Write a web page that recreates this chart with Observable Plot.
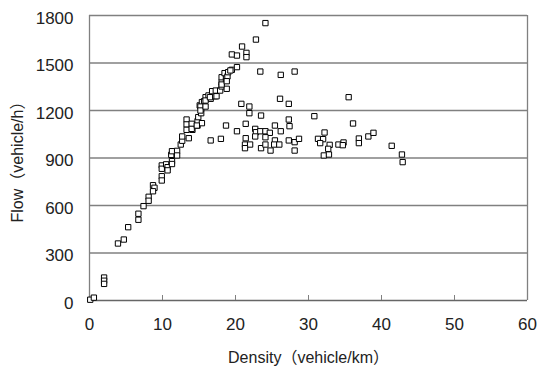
<!DOCTYPE html>
<html><head><meta charset="utf-8">
<script src="https://cdn.jsdelivr.net/npm/d3@7"></script>
<script src="https://cdn.jsdelivr.net/npm/@observablehq/plot@0.6"></script>
<style>body{margin:0;background:#fff} svg{display:block}</style>
</head><body><div id="chart"></div>
<script>
const density = [
  0.1, 0.6, 2.0, 2.0, 2.0, 3.9, 4.7, 5.3, 6.7, 6.7, 7.4, 8.1, 8.1, 8.7, 8.9, 8.7,
  9.9, 9.9, 9.9, 9.9, 10.5, 10.7, 10.7, 11.3, 11.3, 11.2, 11.3, 12.0, 12.0,
  12.5, 12.7, 12.7, 13.6, 13.3, 13.3, 13.3, 14.1, 14.1, 14.8, 14.8, 15.4, 14.9,
  14.0, 14.0, 14.7,
  15.3, 15.3, 15.1, 15.4, 15.7, 15.9, 16.3, 16.6, 17.2, 16.8, 17.3, 17.9, 18.1,
  18.1, 18.1, 18.7, 18.7, 18.5, 18.9, 19.0, 19.5, 20.2, 19.5, 20.2,
  15.2, 15.2, 15.9, 15.9, 18.8, 18.1, 18.8, 19.3, 17.4, 16.5,
  24.1, 22.8, 20.9, 21.5, 21.5, 23.4, 26.2, 28.1,
  26.1, 27.3, 20.8, 21.9, 21.9, 23.5, 27.3, 27.4, 18.7, 21.4, 25.4, 20.2, 22.7,
  22.8, 23.4, 24.1, 24.7, 26.2, 24.1, 22.7, 21.4, 16.6, 18.0, 25.4, 27.3, 28.1,
  28.7, 21.3, 22.0, 21.3, 23.5, 24.1, 24.8, 25.3, 26.0, 28.1,
  35.5, 30.8, 36.1, 32.2, 31.3, 32.0, 31.6, 32.9, 32.7, 32.1, 32.8, 34.1, 34.8,
  34.7, 36.9, 36.9, 38.2, 38.9, 41.4, 42.8, 42.9
];
const flow = [
  5, 18, 145, 125, 105, 360, 385, 463, 548, 510, 596, 655, 630, 728, 712, 690,
  853, 832, 785, 758, 860, 842, 822, 880, 862, 920, 943, 945, 916,
  985, 1009, 1036, 1025, 1143, 1112, 1078, 1105, 1078, 1105, 1132, 1120, 1158,
  1116, 1084, 1105,
  1183, 1211, 1232, 1253, 1259, 1284, 1295, 1274, 1290, 1322, 1326, 1326, 1352,
  1379, 1410, 1389, 1415, 1436, 1415, 1442, 1457, 1474, 1554, 1547,
  1225, 1200, 1225, 1263, 1337, 1364, 1385, 1453, 1290, 1284,
  1752, 1648, 1604, 1564, 1537, 1446, 1425, 1446,
  1274, 1242, 1242, 1225, 1183, 1168, 1143, 1101, 1105, 1116, 1105, 1069, 1084,
  1063, 1069, 1069, 1059, 1069, 1031, 1036, 1025, 1011, 1021, 1011, 1011, 1000,
  1021, 985, 985, 962, 962, 985, 947, 985, 985, 947,
  1284, 1164, 1118, 1061, 1021, 1019, 994, 983, 958, 916, 922, 985, 998,
  981, 1023, 994, 1036, 1059, 977, 922, 874
];
const xTicks = [0, 10, 20, 30, 40, 50, 60];
const yTicks = [0, 300, 600, 900, 1200, 1500, 1800];
const xTitle = "Density（vehicle/km）";
const yTitle = "Flow（vehicle/h）";

const points = density.map((d, i) => ({density: d, flow: flow[i]}));
const grey = "#808080";
const plain = d => String(d);

const chart = Plot.plot({
  width: 546, height: 367,
  marginLeft: 89, marginRight: 19, marginTop: 15, marginBottom: 67,
  style: {fontFamily: '"Liberation Sans","Noto Sans CJK JP",sans-serif', background: "#fff", color: "#222"},
  x: {domain: [0, 60]},
  y: {domain: [0, 1800]},
  marks: [
    Plot.ruleY(yTicks.slice(1), {stroke: grey, strokeWidth: 1.3}),
    Plot.ruleX([xTicks[0], xTicks[xTicks.length - 1]], {stroke: grey, strokeWidth: 1.3}),
    Plot.ruleY([0], {stroke: "#666", strokeWidth: 1.3}),
    Plot.axisX({ticks: xTicks.slice(1, -1), tickSize: -5, tickFormat: () => "", label: null, stroke: grey}),
    Plot.axisX({ticks: xTicks, tickSize: 0, tickPadding: 17, fontSize: 17, tickFormat: plain, label: null}),
    Plot.axisX({ticks: [], label: xTitle, labelArrow: "none", labelAnchor: "center", labelOffset: 62, fontSize: 16, fill: "#222"}),
    Plot.axisY({ticks: yTicks, tickSize: 0, tickPadding: 16, fontSize: 17, tickFormat: plain, label: null, dy: 3}),
    Plot.axisY({ticks: [], label: yTitle, labelArrow: "none", labelAnchor: "center", labelOffset: 78, fontSize: 16, fill: "#222"}),
    Plot.dot(points, {x: "density", y: "flow", symbol: "square", r: 3, stroke: "#000", fill: "#fff", strokeWidth: 1})
  ]
});
document.getElementById("chart").appendChild(chart);
</script>
</body></html>
